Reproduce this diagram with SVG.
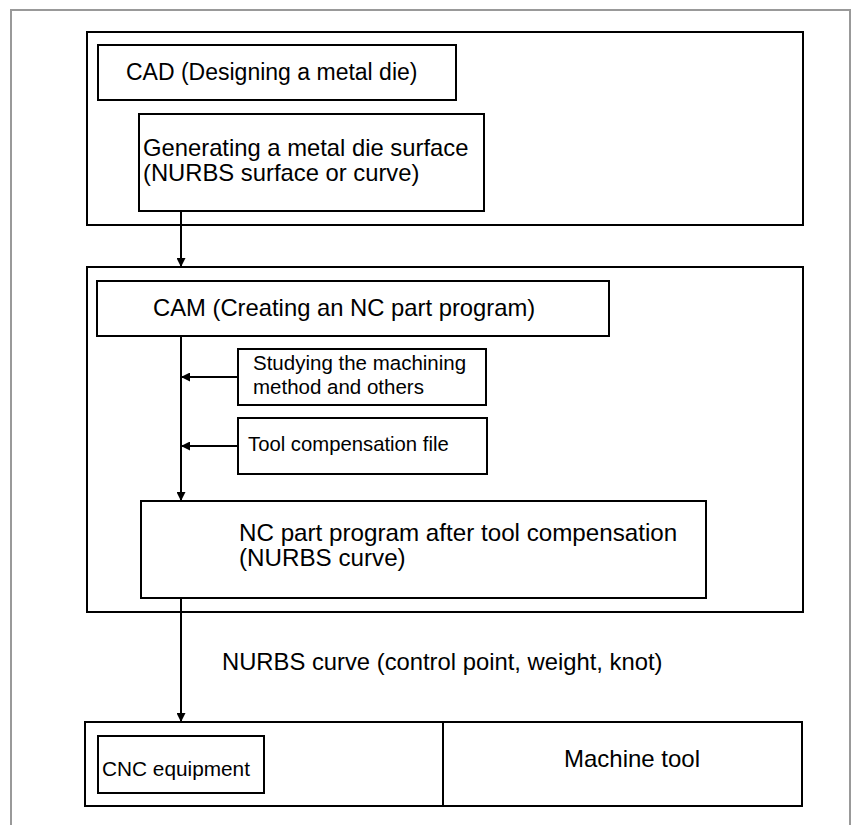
<svg xmlns="http://www.w3.org/2000/svg" width="852" height="825" viewBox="0 0 852 825">
<style>
.box{fill:none;stroke:#000;stroke-width:2}
.t{font-family:"Liberation Sans",Arial,sans-serif;fill:#000}
.conn{stroke:#000;stroke-width:2;fill:none}
</style>
<defs>
<marker id="ah" viewBox="0 0 10 10" refX="10" refY="5" markerWidth="9" markerHeight="9" markerUnits="userSpaceOnUse" orient="auto">
<path d="M0,0 L10,5 L0,10 z" fill="#000"/>
</marker>
</defs>
<rect width="852" height="825" fill="#fff"/>
<path d="M11,825 V10 H850 V825" fill="none" stroke="#999" stroke-width="2"/>

<g id="cad-group"><rect class="box" x="87" y="32" width="716" height="193"/></g>
<g id="cad"><rect class="box" x="98" y="45" width="358" height="55"/>
<text class="t" x="126" y="80" font-size="23">CAD (Designing a metal die)</text></g>
<g id="generating"><rect class="box" x="139" y="114" width="345" height="97"/>
<text class="t" x="143" y="156" font-size="23.8">Generating a metal die surface</text>
<text class="t" x="143" y="181" font-size="23.8">(NURBS surface or curve)</text></g>

<g id="cam-group"><rect class="box" x="87" y="267" width="716" height="345"/></g>
<g id="cam"><rect class="box" x="97" y="281" width="512" height="55"/>
<text class="t" x="153" y="316" font-size="23.8">CAM (Creating an NC part program)</text></g>
<g id="studying"><rect class="box" x="238" y="349" width="248" height="56"/>
<text class="t" x="253" y="370" font-size="20.5">Studying the machining</text>
<text class="t" x="253" y="394" font-size="20.5">method and others</text></g>
<g id="toolcomp"><rect class="box" x="238" y="418" width="249" height="56"/>
<text class="t" x="248" y="451" font-size="20.3">Tool compensation file</text></g>
<g id="ncprogram"><rect class="box" x="141" y="501" width="565" height="97"/>
<text class="t" x="239" y="541" font-size="24.2">NC part program after tool compensation</text>
<text class="t" x="239" y="566" font-size="24.2">(NURBS curve)</text></g>

<g id="machine-group"><rect class="box" x="85" y="722" width="717" height="84"/>
<line class="conn" x1="443" y1="722" x2="443" y2="806"/></g>
<g id="cnc"><rect class="box" x="98" y="736" width="166" height="57"/>
<text class="t" x="102" y="776" font-size="20.8">CNC equipment</text></g>
<g id="machinetool"><text class="t" x="632" y="767" font-size="24" text-anchor="middle">Machine tool</text></g>

<g id="connectors">
<line class="conn" x1="181" y1="211" x2="181" y2="267" marker-end="url(#ah)"/>
<line class="conn" x1="181" y1="336" x2="181" y2="501" marker-end="url(#ah)"/>
<line class="conn" x1="238" y1="377" x2="181" y2="377" marker-end="url(#ah)"/>
<line class="conn" x1="238" y1="446" x2="181" y2="446" marker-end="url(#ah)"/>
<line class="conn" x1="181" y1="598" x2="181" y2="722" marker-end="url(#ah)"/>
<text class="t" x="222" y="670" font-size="23.8">NURBS curve (control point, weight, knot)</text>
</g>
</svg>
